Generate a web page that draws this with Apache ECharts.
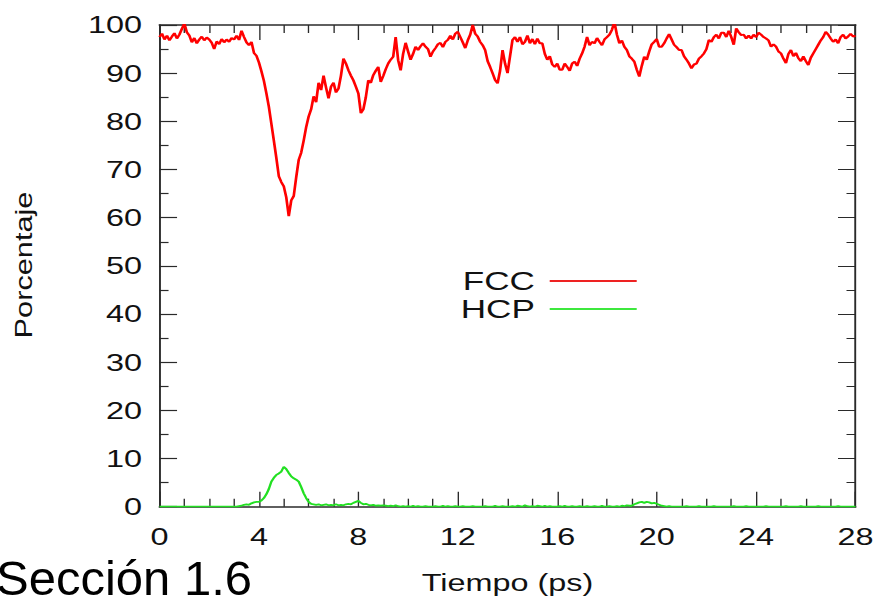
<!DOCTYPE html>
<html>
<head>
<meta charset="utf-8">
<script src="https://cdn.jsdelivr.net/npm/echarts@6/dist/echarts.min.js"></script>
<style>
html, body { margin: 0; padding: 0; background: #fff; overflow: hidden; width: 882px; height: 601px; }
#chart { width: 653.33px; height: 601px; transform: scaleX(1.35); transform-origin: 0 0; }
</style>
</head>
<body>
<div id="chart"></div>
<script>
// ---- data ----
const timeStep = 0.1;               // ps between samples, t = 0 .. 28
const seriesNames = ['FCC', 'HCP'];
const xMin = 0, xMax = 28, xInterval = 4;
const yMin = 0, yMax = 100, yInterval = 10;

const fccValues = [
  97.5, 98.2, 97.0, 97.8, 96.8, 97.6, 98.3, 97.2, 98.0, 99.2,
  100.3, 98.5, 97.8, 96.4, 97.3, 96.2, 97.0, 97.6, 96.8, 97.4,
  97.0, 96.3, 95.0, 96.6, 96.0, 97.1, 96.4, 97.0, 96.5, 97.3,
  97.0, 97.8, 96.9, 98.8, 97.5, 96.4, 95.8, 96.5, 94.2, 93.6,
  92.2, 90.4, 88.4, 85.8, 83.0, 79.5, 76.0, 72.4, 68.6, 67.4,
  66.5, 64.2, 60.3, 63.6, 64.5, 68.4, 72.0, 73.5, 76.0, 78.8,
  81.0, 82.5, 85.2, 84.0, 88.0, 86.5, 89.5, 87.0, 84.8, 87.2,
  88.0, 86.0, 86.8, 89.5, 93.0, 92.0, 90.6, 89.5, 88.5, 87.2,
  85.8, 81.7, 82.5, 85.0, 88.5, 88.0, 89.6, 90.5, 91.3, 88.2,
  89.4, 90.8, 92.0, 92.8, 93.4, 97.5, 92.7, 90.6, 94.0, 96.3,
  94.5, 92.8, 94.0, 95.5, 94.8, 95.6, 96.2, 95.5, 95.0, 93.4,
  94.5, 95.2, 96.0, 96.3, 95.4, 96.5, 96.9, 97.8, 97.0, 98.2,
  98.6, 97.5, 96.4, 95.2, 96.8, 98.0, 100.0, 98.2, 97.6, 96.5,
  95.8, 94.8, 92.5, 91.3, 90.0, 88.6, 87.9, 90.5, 94.8, 92.0,
  90.0, 93.5, 96.9, 97.5, 96.5, 97.5, 96.0, 96.5, 97.8, 96.2,
  97.1, 96.0, 97.2, 96.2, 96.2, 94.0, 92.8, 93.5, 91.8, 91.3,
  92.0, 90.7, 90.7, 92.0, 91.3, 90.5, 92.0, 92.4, 91.5, 93.0,
  94.1, 95.5, 97.5, 95.8, 96.5, 96.2, 97.3, 96.5, 95.8, 97.0,
  97.5, 98.0, 99.0, 100.6, 98.0, 96.2, 96.8, 95.5, 94.8, 93.5,
  93.0, 92.4, 90.7, 89.3, 91.5, 93.4, 92.8, 94.5, 96.0, 96.5,
  97.1, 95.5, 95.5, 96.2, 97.2, 98.1, 97.0, 95.9, 95.4, 94.8,
  94.8, 93.5, 92.8, 92.0, 91.0, 91.8, 92.0, 93.0, 93.5, 94.1,
  95.0, 96.9, 96.5, 97.5, 98.0, 97.2, 98.4, 98.4, 97.5, 98.8,
  97.5, 95.9, 99.3, 98.5, 97.9, 98.0, 97.2, 97.8, 97.2, 98.0,
  97.5, 98.4, 98.0, 97.5, 97.2, 96.8, 95.5, 96.0, 95.5, 94.5,
  94.1, 93.0, 92.1, 94.0, 94.8, 93.5, 94.2, 93.1, 92.5, 93.5,
  92.5, 91.7, 93.2, 94.1, 95.0, 95.9, 96.8, 97.5, 98.6, 98.0,
  97.2, 96.5, 97.0, 96.2, 97.5, 98.0, 97.2, 97.6, 98.2, 97.6,
  97.8
];

const hcpValues = [
  0.0, 0.0, 0.0, 0.0, 0.0, 0.0, 0.0, 0.0, 0.0, 0.0,
  0.0, 0.0, 0.0, 0.0, 0.0, 0.0, 0.0, 0.0, 0.0, 0.0,
  0.0, 0.0, 0.0, 0.0, 0.0, 0.0, 0.0, 0.0, 0.0, 0.0,
  0.0, 0.0, 0.1, 0.2, 0.4, 0.5, 0.4, 0.7, 0.9, 1.0,
  1.0, 1.3, 1.8, 2.6, 3.7, 5.2, 6.0, 6.6, 6.9, 7.3,
  8.3, 7.8, 7.0, 6.3, 5.9, 5.6, 5.2, 4.1, 2.8, 1.8,
  1.0, 0.6, 0.5, 0.4, 0.5, 0.3, 0.4, 0.5, 0.3, 0.4,
  0.3, 0.5, 0.3, 0.4, 0.3, 0.5, 0.6, 0.5, 0.8, 1.0,
  1.2, 0.8, 0.5, 0.6, 0.4, 0.3, 0.4, 0.2, 0.3, 0.2,
  0.3, 0.2, 0.1, 0.2, 0.1, 0.3, 0.1, 0.0, 0.1, 0.0,
  0.1, 0.0, 0.2, 0.0, 0.1, 0.0, 0.0, 0.1, 0.0, 0.0,
  0.0, 0.1, 0.0, 0.0, 0.2, 0.0, 0.1, 0.0, 0.0, 0.1,
  0.0, 0.0, 0.1, 0.0, 0.0, 0.0, 0.1, 0.0, 0.0, 0.0,
  0.0, 0.1, 0.0, 0.0, 0.0, 0.2, 0.0, 0.0, 0.1, 0.0,
  0.0, 0.0, 0.1, 0.0, 0.2, 0.1, 0.0, 0.3, 0.1, 0.0,
  0.1, 0.0, 0.2, 0.1, 0.0, 0.2, 0.0, 0.1, 0.0, 0.0,
  0.0, 0.1, 0.0, 0.2, 0.0, 0.0, 0.1, 0.0, 0.0, 0.1,
  0.0, 0.0, 0.1, 0.0, 0.0, 0.1, 0.0, 0.0, 0.2, 0.0,
  0.0, 0.1, 0.0, 0.0, 0.1, 0.0, 0.2, 0.1, 0.3, 0.2,
  0.2, 0.5, 0.7, 0.9, 1.0, 0.8, 1.0, 0.9, 0.7, 0.8,
  0.6, 0.4, 0.2, 0.1, 0.0, 0.1, 0.0, 0.0, 0.0, 0.0,
  0.0, 0.0, 0.1, 0.0, 0.0, 0.0, 0.0, 0.1, 0.0, 0.0,
  0.0, 0.0, 0.0, 0.1, 0.0, 0.0, 0.0, 0.0, 0.0, 0.0,
  0.0, 0.1, 0.0, 0.0, 0.0, 0.0, 0.1, 0.0, 0.0, 0.0,
  0.0, 0.0, 0.0, 0.0, 0.1, 0.0, 0.0, 0.0, 0.0, 0.0,
  0.0, 0.0, 0.1, 0.0, 0.0, 0.0, 0.0, 0.0, 0.1, 0.0,
  0.0, 0.0, 0.0, 0.0, 0.0, 0.1, 0.0, 0.0, 0.0, 0.0,
  0.0, 0.0, 0.0, 0.1, 0.0, 0.0, 0.0, 0.0, 0.0, 0.0,
  0.0
];

// ---- build ----
const S = 1.35; // horizontal stretch of the whole gnuplot picture
const FONT = '"Liberation Sans", Arial, sans-serif';
const AXIS_COLOR = '#2a2a2a';
const TEXT_COLOR = '#111';

function toPairs(vals) {
  return vals.map((v, i) => [Math.round(i * timeStep * 10) / 10, v]);
}

function xAxisDef(pos, withLabels) {
  return {
    type: 'value', position: pos, min: xMin, max: xMax, interval: xInterval,
    axisLine: { show: true, onZero: false, lineStyle: { color: AXIS_COLOR, width: 1.6 } },
    axisTick: { show: true, inside: true, length: 15, lineStyle: { color: AXIS_COLOR, width: 1 } },
    minorTick: { show: true, splitNumber: 4, length: 8, lineStyle: { color: AXIS_COLOR, width: 1 } },
    splitLine: { show: false }, minorSplitLine: { show: false },
    axisLabel: { show: withLabels, fontSize: 24, color: TEXT_COLOR, fontFamily: FONT, margin: 18 },
    name: withLabels ? 'Tiempo (ps)' : '',
    nameLocation: 'middle', nameGap: 64,
    nameTextStyle: { fontSize: 24, color: TEXT_COLOR, fontFamily: FONT }
  };
}
function yAxisDef(pos, withLabels) {
  return {
    type: 'value', position: pos, min: yMin, max: yMax, interval: yInterval,
    axisLine: { show: true, onZero: false, lineStyle: { color: AXIS_COLOR, width: 1.4 } },
    axisTick: { show: true, inside: true, length: 13, lineStyle: { color: AXIS_COLOR, width: 1.2 } },
    minorTick: { show: true, splitNumber: 2, length: 6.7, lineStyle: { color: AXIS_COLOR, width: 1.2 } },
    splitLine: { show: false }, minorSplitLine: { show: false },
    axisLabel: { show: withLabels, fontSize: 24, color: TEXT_COLOR, fontFamily: FONT, margin: 13 }
  };
}

const chart = echarts.init(document.getElementById('chart'), null, { renderer: 'svg' });
chart.setOption({
  animation: false,
  backgroundColor: '#fff',
  grid: { left: 159.5 / S, right: 26 / S, top: 25, bottom: 94.3 },
  xAxis: [xAxisDef('bottom', true), xAxisDef('top', false)],
  yAxis: [yAxisDef('left', true), yAxisDef('right', false)],
  legend: {
    orient: 'vertical', left: 454 / S, top: 262, align: 'right',
    icon: 'rect', itemWidth: 87 / S, itemHeight: 2, itemGap: 0,
    textStyle: { fontSize: 26, fontFamily: FONT, color: TEXT_COLOR, lineHeight: 28, padding: [0, 6, 0, 0] },
    data: seriesNames
  },
  series: [
    {
      name: seriesNames[0], type: 'line', xAxisIndex: 0, yAxisIndex: 0,
      data: toPairs(fccValues), showSymbol: false, symbol: 'none',
      lineStyle: { color: '#ff0000', width: 2 }, itemStyle: { color: '#ee2222' }
    },
    {
      name: seriesNames[1], type: 'line', xAxisIndex: 0, yAxisIndex: 0,
      data: toPairs(hcpValues), showSymbol: false, symbol: 'none',
      lineStyle: { color: '#22e022', width: 1.8 }, itemStyle: { color: '#3ee83e' }
    }
  ],
  graphic: [
    {
      type: 'text', x: 24 / S, y: 265, rotation: Math.PI / 2, scaleX: 1.28, scaleY: 0.73,
      style: { text: 'Porcentaje', font: '24px ' + FONT, fill: TEXT_COLOR,
               textAlign: 'center', textVerticalAlign: 'middle', align: 'center', verticalAlign: 'middle' }
    },
    {
      type: 'text', x: -4 / S, y: 578, scaleX: 1 / S,
      style: { text: 'Sección 1.6', font: '49px ' + FONT, fill: '#000',
               textAlign: 'left', textVerticalAlign: 'middle', align: 'left', verticalAlign: 'middle' }
    }
  ]
});
</script>
</body>
</html>
